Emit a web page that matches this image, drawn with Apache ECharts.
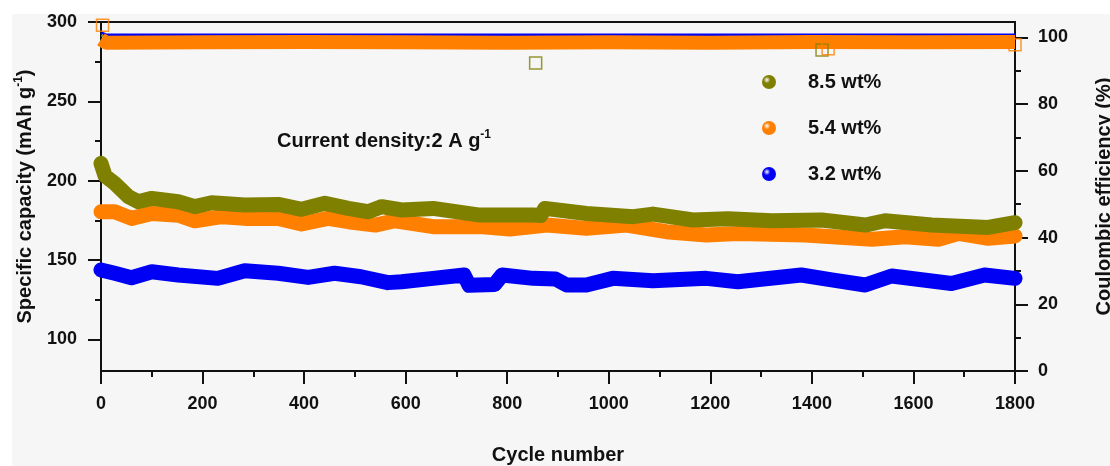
<!DOCTYPE html>
<html>
<head>
<meta charset="utf-8">
<script src="https://cdn.jsdelivr.net/npm/echarts@6/dist/echarts.min.js"></script>
<style>
  body { margin: 0; background: #fff; }
  #paper { position: absolute; left: 12px; top: 14px; width: 1098px; height: 452px; background: #f6f6f6; }
  #chart { position: absolute; left: 0; top: 0; width: 1110px; height: 466px; }
</style>
</head>
<body>
<div id="paper"></div>
<div id="chart"></div>
<script>
// capacity, 8.5 wt%
const cyc85 = [0, 8, 27, 54, 73, 100, 152, 185, 218, 283, 349, 395, 441, 487, 526, 553, 592, 654, 746, 851, 866, 874, 956, 1048, 1087, 1166, 1235, 1321, 1419, 1505, 1544, 1636, 1747, 1800];
const cap85 = [210.9, 203, 198.3, 189.9, 186.7, 188.8, 186.7, 183.6, 186.1, 184.6, 185, 181.9, 185.7, 182.5, 180.4, 183.6, 181.5, 182.5, 178.3, 178.3, 178, 182.5, 179.3, 177.3, 178.9, 175.2, 176, 174.7, 175.2, 172, 174.7, 172, 170.5, 173.5];
// capacity, 5.4 wt%
const cyc54 = [0, 27, 60, 100, 152, 185, 238, 283, 349, 395, 447, 487, 540, 579, 654, 746, 805, 878, 956, 1035, 1113, 1192, 1254, 1386, 1518, 1584, 1649, 1688, 1747, 1800];
const cap54 = [180.4, 180.4, 176.2, 179.3, 178.2, 174.7, 177.3, 176.2, 176.2, 172.7, 176.2, 174.1, 172, 174.7, 171, 171, 169.5, 172, 169.9, 172, 167.8, 165.7, 166.7, 165.7, 163, 164.6, 163, 166.7, 163.7, 165.1];
// capacity, 3.2 wt%
const cyc32 = [0, 27, 60, 100, 152, 230, 283, 349, 408, 460, 512, 565, 592, 654, 715, 725, 775, 790, 851, 895, 917, 956, 1008, 1087, 1192, 1254, 1379, 1439, 1505, 1557, 1675, 1740, 1800];
const cap32 = [143.7, 141.6, 138.8, 142.6, 140.5, 138.4, 143.2, 141.6, 139, 141.6, 139.4, 135.7, 136.3, 138.4, 140.5, 134, 134.5, 140.5, 138.4, 138, 134.2, 134.2, 138.4, 136.9, 138.4, 136.3, 140.5, 137.4, 134.2, 139.9, 135.2, 140.5, 138.4];

// coulombic efficiency
const cycCE = [0, 10, 200, 400, 600, 800, 1000, 1200, 1400, 1600, 1800];
const ce54 = [99.4, 98.4, 98.5, 98.6, 98.5, 98.4, 98.5, 98.4, 98.6, 98.5, 98.6];
const ce32 = [101.5, 100.8, 100.8, 100.8, 100.8, 100.8, 100.8, 100.8, 100.8, 100.8, 100.8];
const ce85 = [100.5, 100.5, 100.5, 100.5, 100.5, 100.5, 100.5, 100.5, 100.5, 100.5, 100.5];
// stray CE points (hollow squares)
const ceOut85 = [[856, 92.3], [1420, 96.2]];
const ceOut54 = [[3, 103.6], [1432, 96.6], [1800, 97.8]];

const names = ['8.5 wt%', '5.4 wt%', '3.2 wt%'];
const colors = ['#7f7f00', '#ff8000', '#0000f5'];

const capTicks = [100, 150, 200, 250, 300];
const capMinor = [125, 175, 225, 275];
const ceTicks = [0, 20, 40, 60, 80, 100];
const ceMinor = [10, 30, 50, 70, 90];

const FONT = '"Liberation Sans", Arial, sans-serif';
const INK = '#111';

const pairs = (xs, ys) => xs.map((x, i) => [x, ys[i]]);

function ball(c) {
  return {
    type: 'radial', x: 0.35, y: 0.35, r: 0.7,
    colorStops: [{ offset: 0, color: '#ffffff' }, { offset: 0.35, color: c }, { offset: 1, color: c }]
  };
}

const label = { fontSize: 18, fontWeight: 'bold', color: INK, fontFamily: FONT };
const title = { fontSize: 20, fontWeight: 'bold', color: INK, fontFamily: FONT };
const axisLine = { show: true, lineStyle: { color: INK, width: 2 } };

function capSeries(name, xs, ys, color) {
  return {
    name: name, type: 'line', yAxisIndex: 0, data: pairs(xs, ys),
    showSymbol: false, symbol: 'circle', animation: false, silent: true,
    itemStyle: { color: color },
    lineStyle: { color: color, width: 15, cap: 'round', join: 'round' },
    z: 3
  };
}

function ceLine(name, ys, color, width) {
  return {
    name: name, type: 'line', yAxisIndex: 2, data: pairs(cycCE, ys),
    showSymbol: false, animation: false, silent: true,
    lineStyle: { color: color, width: width, cap: 'butt', join: 'round' },
    z: 2
  };
}

function ceDots(name, data, color) {
  return {
    name: name, type: 'scatter', yAxisIndex: 2, data: data,
    symbol: 'rect', symbolSize: 12, animation: false, silent: true,
    itemStyle: { color: 'rgba(0,0,0,0)', borderColor: color, borderWidth: 1.5 },
    z: 4
  };
}

const chart = echarts.init(document.getElementById('chart'));
chart.setOption({
  backgroundColor: 'transparent',
  animation: false,
  grid: {
    left: 101, right: 95, top: 22, bottom: 95, outerBoundsMode: 'none',
    show: true, borderColor: INK, borderWidth: 2, backgroundColor: 'transparent'
  },
  legend: {
    orient: 'vertical', left: 757, top: 67, itemWidth: 14, itemHeight: 14, itemGap: 26,
    icon: 'circle',
    data: names.map((n, i) => ({ name: n, itemStyle: { color: ball(colors[i]) } })),
    textStyle: { fontSize: 20, fontWeight: 'bold', color: INK, fontFamily: FONT, padding: [0, 0, 0, 27] }
  },
  graphic: [{
    type: 'text', left: 277, top: 129,
    style: {
      text: '{a|Current density:2 A g}{s|-1}',
      rich: {
        a: { fontSize: 20, fontWeight: 'bold', fill: INK, fontFamily: FONT, lineHeight: 24 },
        s: { fontSize: 12, fontWeight: 'bold', fill: INK, fontFamily: FONT, verticalAlign: 'top', lineHeight: 13 }
      }
    }
  }],
  xAxis: {
    type: 'value', min: 0, max: 1800, interval: 200,
    axisLine: axisLine,
    axisTick: { length: 13, lineStyle: { color: INK, width: 2 } },
    minorTick: { show: true, splitNumber: 2, length: 6, lineStyle: { color: INK, width: 2 } },
    splitLine: { show: false },
    axisLabel: Object.assign({ margin: 24, formatter: v => String(v) }, label),
    name: 'Cycle number', nameLocation: 'middle', nameGap: 74,
    nameTextStyle: title
  },
  yAxis: [
    {
      type: 'value', position: 'left', min: 80, max: 300,
      axisLine: axisLine,
      axisTick: { length: 13, customValues: capTicks, lineStyle: { color: INK, width: 2 } },
      splitLine: { show: false },
      axisLabel: Object.assign({ margin: 24, customValues: capTicks }, label),
      name: '{a|Specific capacity (mAh g}{s|-1}{a|)}', nameLocation: 'middle', nameGap: 64,
      nameTextStyle: {
        rich: {
          a: Object.assign({ lineHeight: 24 }, title),
          s: { fontSize: 12, fontWeight: 'bold', color: INK, fontFamily: FONT, verticalAlign: 'top', lineHeight: 13 }
        }
      }
    },
    {
      type: 'value', position: 'left', min: 80, max: 300,
      axisLine: { show: false },
      axisTick: { length: 6, customValues: capMinor, lineStyle: { color: INK, width: 2 } },
      splitLine: { show: false },
      axisLabel: { show: false }
    },
    {
      type: 'value', position: 'right', min: 0, max: 104.6,
      axisLine: axisLine,
      axisTick: { length: 13, customValues: ceTicks, lineStyle: { color: INK, width: 2 } },
      splitLine: { show: false },
      axisLabel: Object.assign({ margin: 23, customValues: ceTicks }, label),
      name: 'Coulombic efficiency (%)', nameLocation: 'middle', nameGap: 79, nameRotate: 90,
      nameTextStyle: title
    },
    {
      type: 'value', position: 'right', min: 0, max: 104.6,
      axisLine: { show: false },
      axisTick: { length: 6, customValues: ceMinor, lineStyle: { color: INK, width: 2 } },
      splitLine: { show: false },
      axisLabel: { show: false }
    }
  ],
  series: [
    ceLine('ce 8.5', ce85, colors[0], 2),
    ceLine('ce 3.2', ce32, colors[2], 2.5),
    ceLine('ce 5.4', ce54, colors[1], 14),
    ceDots('ce out 8.5', ceOut85, colors[0]),
    ceDots('ce out 5.4', ceOut54, colors[1]),
    capSeries(names[2], cyc32, cap32, colors[2]),
    capSeries(names[1], cyc54, cap54, colors[1]),
    capSeries(names[0], cyc85, cap85, colors[0])
  ]
});
</script>
</body>
</html>
